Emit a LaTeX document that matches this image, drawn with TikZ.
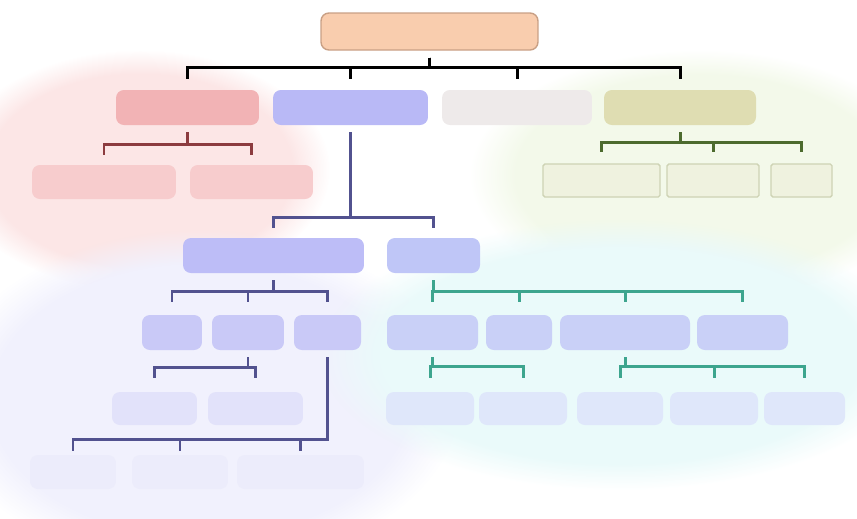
\documentclass[tikz,border=0pt]{standalone}
\usetikzlibrary{fadings}
\definecolor{peach}{HTML}{F9CDAE}
\definecolor{peachdark}{HTML}{C9A085}
\definecolor{rosebox}{HTML}{F2B3B5}
\definecolor{roselight}{HTML}{F7CCCD}
\definecolor{redline}{HTML}{8C3B3F}
\definecolor{lilac}{HTML}{B9B9F6}
\definecolor{lilacA}{HTML}{BDBDF7}
\definecolor{lilacB}{HTML}{BFC6F7}
\definecolor{lilacC}{HTML}{C9C9F7}
\definecolor{lilacD}{HTML}{E2E2FA}
\definecolor{lilacE}{HTML}{ECECFB}
\definecolor{skyC}{HTML}{C9D0F7}
\definecolor{skyD}{HTML}{DFE7FA}
\definecolor{blueline}{HTML}{52528F}
\definecolor{tealline}{HTML}{3DA58E}
\definecolor{stone}{HTML}{EEEAEA}
\definecolor{olive}{HTML}{DFDDB2}
\definecolor{olivelight}{HTML}{EFF2DF}
\definecolor{olivedark}{HTML}{CED3B4}
\definecolor{greenline}{HTML}{4C6B2E}
\definecolor{glowred}{HTML}{FCE6E6}
\definecolor{glowgreen}{HTML}{F3F9EA}
\definecolor{glowlilac}{HTML}{F1F1FD}
\definecolor{glowcyan}{HTML}{EAFAFA}
\tikzset{
  box/.style={rounded corners=4.5pt, inner sep=0pt},
  link/.style={line width=1.7pt, shorten <=0.14cm}
}
\begin{document}
\begin{tikzpicture}[x=0.02cm, y=-0.02cm]
    \useasboundingbox (0,0) rectangle (857,518);
    % soft glows behind the branches
    \fill[glowred, path fading=circle with fuzzy edge 20 percent] (140,170) ellipse (190 and 120);
    \fill[glowgreen, path fading=circle with fuzzy edge 20 percent] (700,175) ellipse (230 and 125);
    \fill[glowlilac, path fading=circle with fuzzy edge 20 percent] (200,400) ellipse (260 and 170);
    \fill[glowcyan, path fading=circle with fuzzy edge 20 percent] (620,355) ellipse (300 and 135);
    % boxes
    \node[box, draw=peachdark, line width=0.8pt, fill=peach, minimum width=4.34cm, minimum height=0.74cm] (root) at (429.5,31.5) {};
    \foreach \n/\x/\w/\f in {a/187.5/2.86/rosebox, b/350.5/3.1/lilac, c/517/3.0/stone, d/680/3.04/olive}
      \node[box, fill=\f, minimum width=\w cm, minimum height=0.7cm] (\n) at (\x,107.5) {};
    \foreach \n/\x/\w in {a1/104/2.88, a2/251.5/2.46}
      \node[box, fill=roselight, minimum width=\w cm, minimum height=0.68cm] (\n) at (\x,182) {};
    \foreach \n/\x/\w in {d1/601.5/2.34, d2/713/1.84, d3/801.5/1.22}
      \node[draw=olivedark, line width=0.8pt, rounded corners=1pt, fill=olivelight, minimum width=\w cm, minimum height=0.66cm, inner sep=0pt] (\n) at (\x,180.5) {};
    \node[box, fill=lilacA, minimum width=3.62cm, minimum height=0.7cm] (b1) at (273.5,255.5) {};
    \node[box, fill=lilacB, minimum width=1.86cm, minimum height=0.7cm] (b2) at (433.5,255.5) {};
    \foreach \n/\x/\w/\f in {b11/172/1.2/lilacC, b12/248/1.44/lilacC, b13/327.5/1.34/lilacC,
                             b21/432.5/1.82/skyC, b22/519/1.32/skyC, b23/625/2.6/skyC, b24/742.5/1.82/skyC}
      \node[box, fill=\f, minimum width=\w cm, minimum height=0.7cm] (\n) at (\x,332.5) {};
    \foreach \n/\x/\w/\f in {b121/154.5/1.7/lilacD, b122/255.5/1.9/lilacD,
                             b211/430/1.76/skyD, b212/523/1.76/skyD, b231/620/1.72/skyD, b232/714/1.76/skyD, b233/804.5/1.62/skyD}
      \node[box, fill=\f, minimum width=\w cm, minimum height=0.66cm] (\n) at (\x,408.5) {};
    \foreach \n/\x/\w in {b131/73/1.72, b132/180/1.92, b133/300.5/2.54}
      \node[box, fill=lilacE, minimum width=\w cm, minimum height=0.68cm] (\n) at (\x,472) {};
    % bracket connectors
    \foreach \p/\kids/\up/\gap/\col in {
        root/{a,b,c,d}/0.44/0.22/black,
        a/{a1,a2}/0.4/0.2/redline,
        d/{d1,d2,d3}/0.42/0.22/greenline,
        b/{b1,b2}/0.4/0.2/blueline,
        b1/{b11,b12,b13}/0.46/0.26/blueline,
        b12/{b121,b122}/0.48/0.28/blueline,
        b13/{b131,b132,b133}/0.3/0.08/blueline,
        b2/{b21,b22,b23,b24}/0.46/0.26/tealline,
        b21/{b211,b212}/0.5/0.28/tealline,
        b23/{b231,b232,b233}/0.5/0.28/tealline}
      \foreach \c in \kids
        \draw[link, \col, shorten >=\gap cm] (\p.south) |- ([yshift=\up cm]\c.north) -- (\c.north);
  \end{tikzpicture}
\end{document}
